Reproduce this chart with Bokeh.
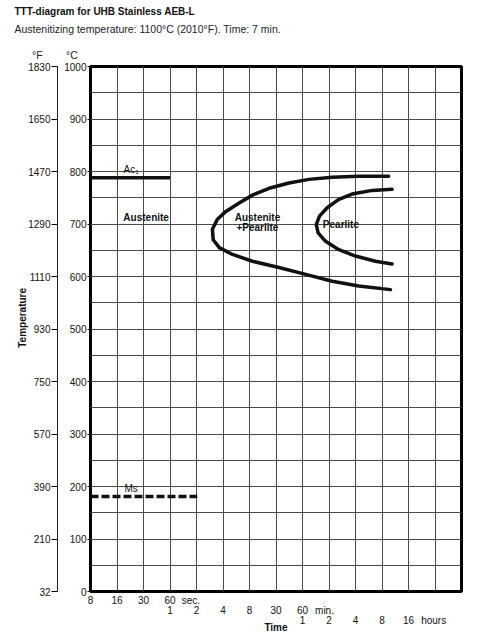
from bokeh.plotting import figure
from bokeh.models import Range1d, FixedTicker, LinearAxis, Label, LabelSet, ColumnDataSource, Title
from bokeh.core.properties import value
from bokeh.embed import file_html
from bokeh.resources import INLINE

# ---------------- data ----------------
title_text = "TTT-diagram for UHB Stainless AEB-L"
subtitle_text = "Austenitizing temperature: 1100°C (2010°F). Time: 7 min."
unit_f = "°F"
unit_c = "°C"
y_title = "Temperature"

celsius_ticks = [0, 100, 200, 300, 400, 500, 600, 700, 800, 900, 1000]
fahrenheit_labels = ["32", "210", "390", "570", "750", "930", "1110", "1290", "1470", "1650", "1830"]
celsius_grid = list(range(0, 1001, 50))
time_grid = list(range(0, 15))

sec_pos = [0, 1, 2, 3]
sec_labels = ["8", "16", "30", "60"]
min_pos = [3, 4, 5, 6, 7, 8]
min_labels = ["1", "2", "4", "8", "30", "60"]
hour_pos = [8, 9, 10, 11, 12]
hour_labels = ["1", "2", "4", "8", "16"]
unit_pos = [3.79, 8.83, 12.95]
unit_labels = ["sec.", "min.", "hours"]

# outer C-curve (Austenite + Pearlite start), x = time grid index, y = degC
outer_x = [11.25, 10.12, 9.12, 8.24, 7.49, 6.74, 6.11, 5.61, 5.11, 4.79, 4.60, 4.63,
           4.86, 5.36, 6.11, 7.11, 8.12, 9.12, 10.12, 11.32]
outer_t = [791, 791, 789, 785, 778, 768, 755, 740, 724, 709, 690, 670,
           655, 642, 629, 617, 604, 591, 582, 575]
# inner C-curve (Pearlite)
inner_x = [11.38, 10.63, 9.87, 9.37, 8.93, 8.64, 8.52, 8.59, 8.87, 9.37, 10.0, 10.75, 11.38]
inner_t = [766, 764, 757, 747, 731, 715, 699, 683, 667, 651, 639, 629, 624]

ac1_x = [0, 3]
ac1_t = [788, 788]
ms_x = [0, 4.03]
ms_t = [181, 181]

region_names = ["Austenite", "Austenite", "+Pearlite", "Pearlite"]
region_x = [2.1, 6.3, 6.3, 9.45]
region_t = [712, 712, 693, 699]

FONT = "Liberation Sans"
INK = "#111111"
NB = "\u00a0"

p = figure(width=470, height=637, output_backend="svg", toolbar_location=None,
           x_range=Range1d(0, 14), y_range=Range1d(0, 1000),
           x_axis_location=None, y_axis_location="left", title=None,
           min_border_left=90, min_border_right=9, min_border_top=66, min_border_bottom=46,
           background_fill_color="white", border_fill_color="white")

p.outline_line_color = "black"
p.outline_line_width = 3

# grids
p.xgrid.ticker = FixedTicker(ticks=time_grid)
p.ygrid.ticker = FixedTicker(ticks=celsius_grid)
for g in (p.xgrid, p.ygrid):
    g.grid_line_color = "#4a4a4a"
    g.grid_line_width = 1
    g.grid_line_alpha = 1

# Celsius axis
cax = p.yaxis[0]
cax.ticker = FixedTicker(ticks=celsius_ticks)
cax.axis_line_color = None
cax.major_tick_out = 3
cax.major_tick_in = 0
cax.minor_tick_line_color = None
cax.major_label_standoff = 1
cax.major_label_text_font = FONT
cax.major_label_text_font_size = "10px"
cax.major_label_text_color = INK
cax.axis_label = NB
cax.axis_label_text_font_size = "1px"
cax.axis_label_standoff = 0

# Fahrenheit axis
fax = LinearAxis(ticker=FixedTicker(ticks=celsius_ticks),
                 major_label_overrides={c: f for c, f in zip(celsius_ticks, fahrenheit_labels)})
fax.axis_line_color = "#222222"
fax.axis_line_width = 1
fax.major_tick_out = 6
fax.major_tick_in = 0
fax.minor_tick_line_color = None
fax.major_label_standoff = 1
fax.major_label_text_font = FONT
fax.major_label_text_font_size = "10px"
fax.major_label_text_color = INK
fax.axis_label = NB * 8 + y_title
fax.axis_label_text_font = FONT
fax.axis_label_text_font_size = "10px"
fax.axis_label_text_font_style = "bold"
fax.axis_label_text_color = INK
fax.axis_label_standoff = -3
p.add_layout(fax, "left")

# time axis: one axis, three label rows built from the row arrays
rows = [(sec_pos, sec_labels, unit_pos[0], unit_labels[0]),
        (min_pos, min_labels, unit_pos[1], unit_labels[1]),
        (hour_pos, hour_labels, unit_pos[2], unit_labels[2])]
time_labels = {}
for r, (pos, labs, upos, ulab) in enumerate(rows):
    for x, t in list(zip(pos, labs)) + [(upos, ulab)]:
        lines = time_labels.get(x, [])
        while len(lines) < r:
            lines.append(NB)
        lines.append(t)
        time_labels[x] = lines
time_ticks = sorted(time_labels)
tax = LinearAxis(ticker=FixedTicker(ticks=time_ticks),
                 major_label_overrides={x: "\n".join(time_labels[x]) for x in time_ticks})
tax.axis_line_color = None
tax.major_tick_line_color = None
tax.minor_tick_line_color = None
tax.major_tick_out = 0
tax.major_tick_in = 0
tax.major_label_standoff = 3
tax.major_label_text_font = FONT
tax.major_label_text_font_size = "10px"
tax.major_label_text_line_height = 0.95
tax.major_label_text_color = INK
tax.axis_label = "Time"
tax.axis_label_text_font = FONT
tax.axis_label_text_font_size = "10px"
tax.axis_label_text_font_style = "bold"
tax.axis_label_text_color = INK
tax.axis_label_standoff = -7
p.add_layout(tax, "below")

# curves and lines
p.line(outer_x, outer_t, line_color=INK, line_width=3.5, line_join="round", line_cap="round")
p.line(inner_x, inner_t, line_color=INK, line_width=3.5, line_join="round", line_cap="round")
p.line(ac1_x, ac1_t, line_color=INK, line_width=3.5)
p.line(ms_x, ms_t, line_color=INK, line_width=3.5, line_dash="8 3")

# region labels
src = ColumnDataSource(dict(x=region_x, y=region_t, text=region_names))
p.add_layout(LabelSet(x="x", y="y", text="text", source=src, text_align="center",
                      text_baseline="middle", text_font=value(FONT), text_font_size=value("10px"),
                      text_font_style=value("bold"), text_color=value(INK)))
p.add_layout(Label(x=1.53, y=804, text="Ac₁", text_align="center", text_baseline="middle",
                   text_font=FONT, text_font_size="10px", text_color=INK))
p.add_layout(Label(x=1.53, y=197, text="Ms", text_align="center", text_baseline="middle",
                   text_font=FONT, text_font_size="10px", text_color=INK))

# titles (first added is nearest the frame): subtitle + unit headers as one block
units_line = NB * 6 + unit_f + NB * 8 + unit_c
t_block = Title(text=subtitle_text + "\n" + NB + "\n" + units_line, align="left", offset=-76,
                standoff=10, text_font=FONT, text_font_size="10.5px", text_font_style="normal",
                text_color="#222222", text_line_height=1.09)
t_main = Title(text=title_text, align="left", offset=-76, standoff=0,
               text_font=FONT, text_font_size="10px", text_font_style="bold", text_color=INK)
p.add_layout(t_block, "above")
p.add_layout(t_main, "above")

open("out.html", "w").write(file_html(p, INLINE))
